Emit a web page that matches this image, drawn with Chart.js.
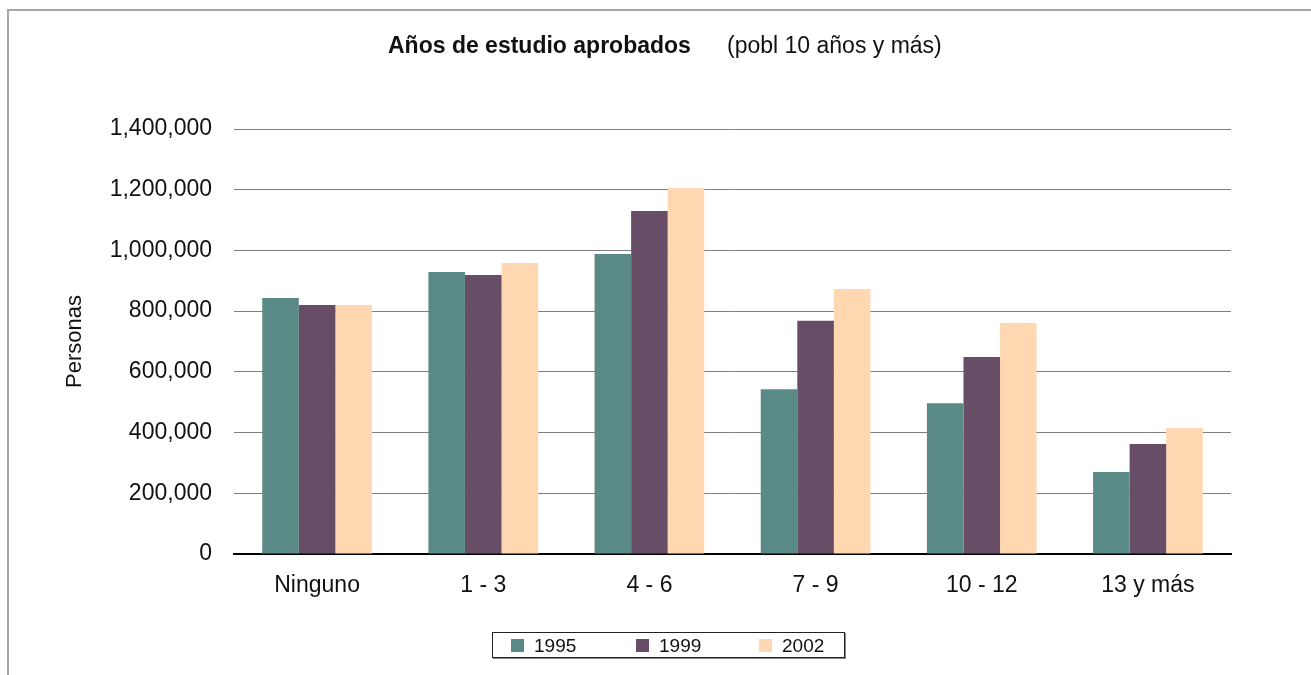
<!DOCTYPE html>
<html>
<head>
<meta charset="utf-8">
<script src="https://cdn.jsdelivr.net/npm/chart.js@4.4.0/dist/chart.umd.min.js"></script>
<style>
  html, body { margin: 0; padding: 0; background: #fff; }
  body { width: 1311px; height: 675px; position: relative; overflow: hidden; font-family: "Liberation Sans", Arial, sans-serif; }
  #frame { position: absolute; left: 7px; top: 9px; right: -10px; bottom: -10px; border-left: 2px solid #a6a6a6; border-top: 2px solid #a6a6a6; }
  #c { position: absolute; left: 0; top: 0; }
  #title { position: absolute; left: 388px; top: 32px; font-size: 23px; color: #111; white-space: nowrap; }
  #title b { font-weight: bold; }
  #title span { position: absolute; left: 339px; top: 0; }
  #legend { position: absolute; left: 492px; top: 632px; width: 351px; height: 24px; border: 1px solid #222; box-shadow: 1px 1px 0 #888; }
  .item { position: absolute; top: 0; height: 25px; line-height: 25px; font-size: 19px; color: #111; }
  .sw { position: absolute; top: 6px; width: 13px; height: 13px; }
</style>
</head>
<body>
<div id="frame"></div>
<canvas id="c" width="1311" height="675"></canvas>
<div id="title"><b>Años de estudio aprobados</b><span>(pobl 10 años y más)</span></div>
<div id="legend"></div>
<script>
const categories = ["Ninguno", "1 - 3", "4 - 6", "7 - 9", "10 - 12", "13 y más"];
const seriesNames = ["1995", "1999", "2002"];
const values1995 = [843000, 929000, 988000, 543000, 497000, 270000];
const values1999 = [820000, 919000, 1130000, 768000, 649000, 362000];
const values2002 = [820000, 959000, 1206000, 873000, 761000, 415000];
const colors = ["#5a8a85", "#684d66", "#ffd7b0"];
const yTicks = [0, 200000, 400000, 600000, 800000, 1000000, 1200000, 1400000];

const seriesValues = [values1995, values1999, values2002];
const font = "'Liberation Sans', Arial, sans-serif";

new Chart(document.getElementById('c'), {
  type: 'bar',
  data: {
    labels: categories,
    datasets: seriesNames.map((n, i) => ({
      label: n,
      data: seriesValues[i],
      backgroundColor: colors[i],
      borderWidth: 0,
      categoryPercentage: 0.66,
      barPercentage: 1.0
    }))
  },
  options: {
    responsive: false,
    animation: false,
    layout: { padding: { left: 0, right: 80, top: 129, bottom: 0 } },
    plugins: { legend: { display: false }, title: { display: false }, tooltip: { enabled: false } },
    scales: {
      x: {
        grid: { display: false },
        border: { display: true, color: '#000', width: 2 },
        ticks: { color: '#111', font: { family: font, size: 23 }, padding: 10 },
        afterFit: (s) => { s.height = 121; }
      },
      y: {
        min: 0, max: 1400000,
        afterBuildTicks: (s) => { s.ticks = yTicks.map(v => ({ value: v })); },
        grid: { color: '#808080', lineWidth: 1, drawTicks: false },
        border: { display: false },
        ticks: {
          color: '#111', font: { family: font, size: 23 }, padding: 22,
          callback: (v) => v.toLocaleString('en-US')
        },
        title: { display: true, text: 'Personas', color: '#111', font: { family: font, size: 22 }, padding: { top: 62, bottom: 0 } },
        afterFit: (s) => { s.width = 234; }
      }
    }
  }
});

const leg = document.getElementById('legend');
const swX = [18, 143, 266];
seriesNames.forEach((n, i) => {
  const sw = document.createElement('div');
  sw.className = 'sw';
  sw.style.left = swX[i] + 'px';
  sw.style.background = colors[i];
  leg.appendChild(sw);
  const t = document.createElement('div');
  t.className = 'item';
  t.style.left = (swX[i] + 23) + 'px';
  t.textContent = n;
  leg.appendChild(t);
});
</script>
</body>
</html>
